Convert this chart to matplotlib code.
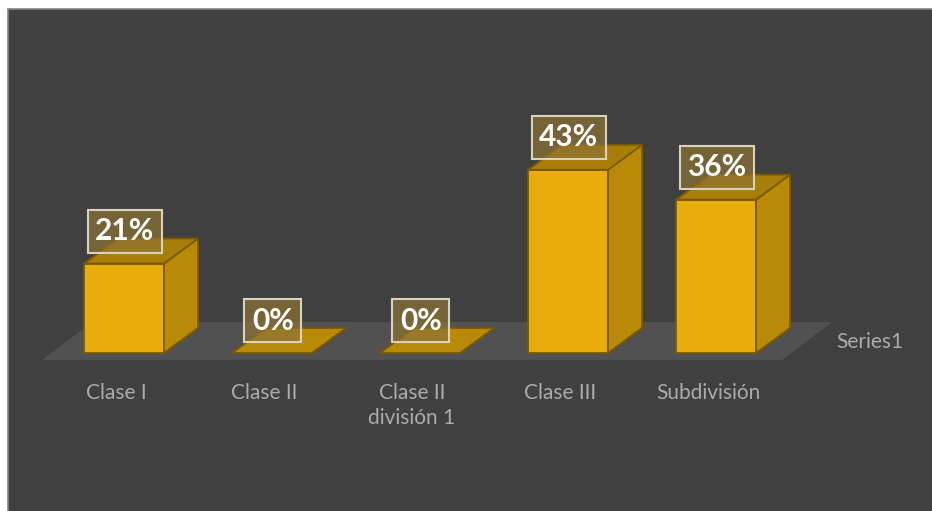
import numpy as np
import matplotlib.pyplot as plt
from matplotlib.patches import Polygon, Rectangle

plt.rcParams['font.family'] = ['Lato', 'DejaVu Sans']

# datos
categorias = ["Clase I", "Clase II", "Clase II\ndivisión 1", "Clase III", "Subdivisión"]
porcentajes = [21, 0, 0, 43, 36]
serie = "Series1"

# colores
c_fondo = '#404040'
c_piso = '#525151'
c_frente = '#e9ad0b'
c_lado = '#b98a08'
c_arriba = '#a97e08'
c_borde = '#7a5a00'
c_texto = '#ababab'

W, H = 932, 511
fig = plt.figure(figsize=(W / 100, H / 100), dpi=100)
fig.patch.set_facecolor('white')
fig.patches.append(Rectangle((8 / W, -0.01), 1.0, 1 - 9 / H + 0.01, transform=fig.transFigure,
                             facecolor=c_fondo, edgecolor='#858585', lw=1.2, zorder=-1))

ax = fig.add_axes([0, 0, 1, 1])
ax.set_facecolor('none')
ax.set_xlim(-0.838, 5.459)
ax.set_ylim(-37.09, 82.86)
ax.axis('off')

x = np.arange(len(categorias))
ancho = 0.54
dx, dy = 0.23, 5.87          # profundidad de las barras
pdx, pdy = 0.338, 8.92       # profundidad del piso

# piso
x0, x1, y0 = -0.554, 4.446, -1.64
ax.add_patch(Polygon([(x0, y0), (x1, y0), (x1 + pdx, y0 + pdy), (x0 + pdx, y0 + pdy)],
                     closed=True, facecolor=c_piso, edgecolor='none', zorder=1))

# barras 3D: frente + lado + tapa
ax.bar(x, porcentajes, width=ancho, color=c_frente, edgecolor=c_borde, lw=1.3, zorder=3)
for xi, v in zip(x, porcentajes):
    l, r = xi - ancho / 2, xi + ancho / 2
    if v > 0:
        ax.add_patch(Polygon([(r, 0), (r + dx, dy), (r + dx, v + dy), (r, v)], closed=True,
                             facecolor=c_lado, edgecolor=c_borde, lw=1.3, zorder=3))
    ax.add_patch(Polygon([(l, v), (r, v), (r + dx, v + dy), (l + dx, v + dy)], closed=True,
                         facecolor=c_arriba if v > 0 else c_lado, edgecolor=c_borde, lw=1.3, zorder=3))

# etiquetas de valor
for xi, v in zip(x, porcentajes):
    ax.text(xi + 0.005, v + 7.6, f"{v}%", ha='center', va='center', fontsize=21.5, fontweight='bold',
            color='white', zorder=5,
            bbox=dict(boxstyle='square,pad=0.25', fc=(0.55, 0.45, 0.2, 0.72), ec='#d9d2bf', lw=1.5))

# categorias
for xi, c in zip(x, categorias):
    ax.text(xi - 0.055, -7.0, c, ha='center', va='top', fontsize=15, color=c_texto,
            linespacing=1.3, zorder=5)

ax.text(4.81, 2.58, serie, ha='left', va='center', fontsize=15, color=c_texto, zorder=5)

fig.savefig('out.png', dpi=100, facecolor=fig.get_facecolor())
